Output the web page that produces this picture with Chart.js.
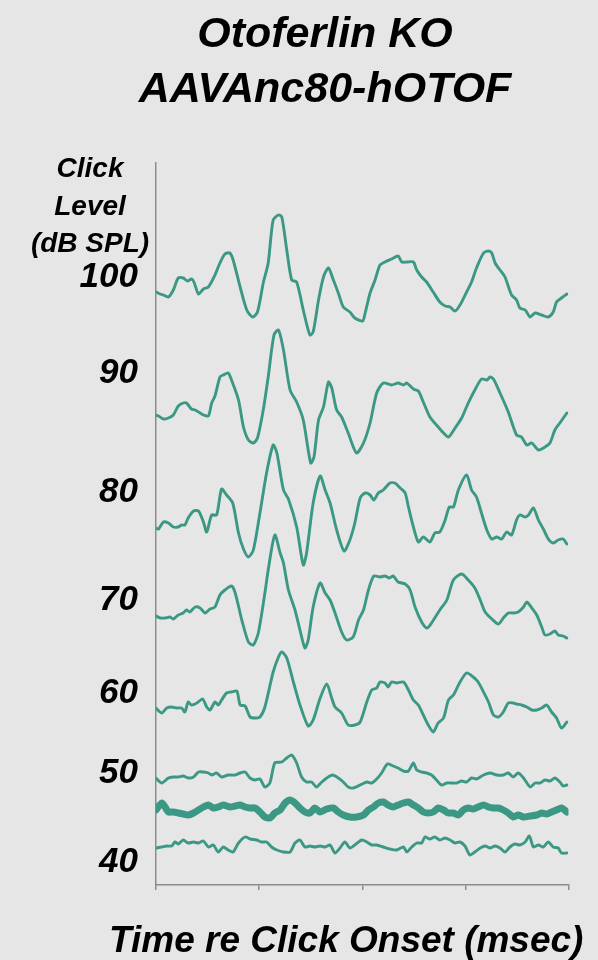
<!DOCTYPE html>
<html>
<head>
<meta charset="utf-8">
<script src="https://cdn.jsdelivr.net/npm/chart.js@4.4.1/dist/chart.umd.min.js"></script>
<style>
  html, body { margin: 0; padding: 0; background: #e7e6e7; }
  #wrap { width: 598px; height: 960px; }
  canvas { display: block; }
</style>
</head>
<body>
<div id="wrap"><canvas id="abr" width="598" height="960"></canvas></div>
<script>
// Click-evoked ABR waveforms, otoferlin KO mouse treated with AAVAnc80-hOTOF.
// Each waveform: [time re click onset (ms), amplitude (µV) about its own baseline].

const levels = [100, 90, 80, 70, 60, 50, 45, 40];           // dB SPL, top to bottom
const thresholdLevel = 45;                                     // drawn with a heavy line
const traceOffsets = [5.93, 4.70, 3.57, 2.69, 1.77, 1.07, 0.75, 0.37]; // µV stacking offsets

const labelledLevels = [100, 90, 80, 70, 60, 50, 40];
const levelTickValues = [6.08, 5.12, 3.93, 2.85, 1.92, 1.12, 0.23];
const timeTicks = [0, 2.5, 5, 7.5, 10];

const titleLines = ['Otoferlin KO', 'AAVAnc80-hOTOF'];
const levelHeading = ['Click', 'Level', '(dB SPL)'];
const timeAxisTitle = 'Time re Click Onset (msec)';

const wave100 = [[0.00,0.00],[0.10,-0.02],[0.18,-0.03],[0.30,-0.05],[0.42,0.02],[0.54,0.14],[0.66,0.14],[0.76,0.11],[0.86,0.13],[0.92,0.10],[1.03,-0.02],[1.15,0.03],[1.27,0.05],[1.43,0.17],[1.55,0.29],[1.67,0.38],[1.79,0.39],[1.87,0.32],[2.04,0.05],[2.20,-0.18],[2.34,-0.25],[2.46,-0.20],[2.60,0.09],[2.72,0.29],[2.84,0.72],[2.97,0.77],[3.05,0.75],[3.17,0.42],[3.29,0.12],[3.41,0.10],[3.57,-0.18],[3.73,-0.43],[3.81,-0.40],[3.94,-0.08],[4.06,0.15],[4.18,0.24],[4.30,0.12],[4.42,-0.01],[4.54,-0.15],[4.70,-0.20],[4.82,-0.26],[5.01,-0.29],[5.07,-0.21],[5.19,-0.01],[5.31,0.12],[5.43,0.27],[5.55,0.30],[5.71,0.33],[5.87,0.36],[5.96,0.30],[6.08,0.30],[6.24,0.30],[6.32,0.22],[6.44,0.15],[6.56,0.10],[6.72,0.00],[6.88,-0.10],[7.01,-0.14],[7.13,-0.15],[7.25,-0.19],[7.37,-0.13],[7.53,0.00],[7.65,0.10],[7.77,0.24],[7.94,0.39],[8.06,0.41],[8.14,0.39],[8.22,0.29],[8.34,0.22],[8.46,0.15],[8.62,-0.03],[8.74,-0.08],[8.82,-0.16],[8.95,-0.18],[9.07,-0.25],[9.19,-0.21],[9.35,-0.23],[9.51,-0.25],[9.63,-0.20],[9.71,-0.10],[9.83,-0.06],[9.96,-0.02]];

const wave90 = [[0.00,0.00],[0.06,-0.01],[0.18,-0.04],[0.30,-0.03],[0.42,0.00],[0.54,0.09],[0.66,0.12],[0.74,0.12],[0.86,0.06],[0.95,0.05],[1.07,0.02],[1.15,0.00],[1.27,-0.01],[1.35,0.12],[1.43,0.19],[1.55,0.38],[1.63,0.40],[1.75,0.42],[1.83,0.35],[2.00,0.15],[2.12,-0.12],[2.24,-0.25],[2.36,-0.28],[2.46,-0.23],[2.60,0.05],[2.72,0.38],[2.86,0.80],[2.97,0.85],[3.09,0.65],[3.25,0.25],[3.41,0.13],[3.57,-0.05],[3.75,-0.48],[3.83,-0.42],[3.94,-0.05],[4.06,0.08],[4.18,0.33],[4.26,0.27],[4.38,0.05],[4.50,-0.02],[4.66,-0.18],[4.86,-0.38],[5.03,-0.28],[5.19,-0.08],[5.35,0.22],[5.51,0.32],[5.71,0.30],[5.87,0.32],[6.00,0.30],[6.08,0.32],[6.24,0.26],[6.36,0.24],[6.48,0.13],[6.64,-0.02],[6.80,-0.10],[6.97,-0.18],[7.09,-0.22],[7.25,-0.13],[7.41,-0.03],[7.57,0.12],[7.73,0.25],[7.89,0.36],[8.02,0.35],[8.10,0.38],[8.18,0.36],[8.34,0.22],[8.54,0.03],[8.74,-0.20],[8.86,-0.22],[8.99,-0.30],[9.11,-0.28],[9.27,-0.35],[9.43,-0.32],[9.55,-0.28],[9.67,-0.15],[9.79,-0.08],[9.96,0.02]];

const wave80 = [[0.00,0.00],[0.06,-0.01],[0.18,0.06],[0.30,0.05],[0.42,0.01],[0.54,0.01],[0.62,0.03],[0.70,0.03],[0.78,0.10],[0.91,0.17],[1.03,0.17],[1.15,0.06],[1.23,-0.04],[1.35,0.13],[1.47,0.13],[1.59,0.39],[1.71,0.33],[1.86,0.25],[2.00,-0.05],[2.12,-0.21],[2.24,-0.29],[2.36,-0.22],[2.52,0.15],[2.68,0.55],[2.84,0.83],[2.93,0.75],[3.09,0.38],[3.21,0.29],[3.41,0.01],[3.57,-0.37],[3.65,-0.25],[3.81,0.25],[3.98,0.52],[4.10,0.38],[4.22,0.25],[4.38,-0.02],[4.56,-0.23],[4.70,-0.12],[4.82,0.05],[4.95,0.30],[5.07,0.35],[5.19,0.33],[5.28,0.28],[5.39,0.35],[5.51,0.38],[5.67,0.45],[5.79,0.45],[5.92,0.40],[6.04,0.35],[6.12,0.21],[6.24,0.01],[6.36,-0.14],[6.48,-0.09],[6.64,-0.14],[6.76,-0.05],[6.88,-0.04],[7.01,0.08],[7.11,0.21],[7.21,0.21],[7.33,0.38],[7.53,0.53],[7.65,0.38],[7.77,0.31],[7.89,0.15],[8.02,-0.02],[8.14,-0.11],[8.26,-0.09],[8.38,-0.11],[8.50,-0.04],[8.62,-0.07],[8.74,0.08],[8.82,0.13],[8.95,0.11],[9.03,0.13],[9.15,0.20],[9.27,0.08],[9.39,-0.01],[9.51,-0.11],[9.63,-0.15],[9.75,-0.12],[9.87,-0.11],[9.96,-0.16]];

const wave70 = [[0.00,0.00],[0.10,-0.02],[0.22,-0.02],[0.34,-0.01],[0.42,-0.03],[0.54,0.01],[0.66,0.03],[0.74,0.06],[0.82,0.04],[0.95,0.09],[1.07,0.08],[1.19,0.03],[1.31,0.07],[1.43,0.09],[1.55,0.21],[1.67,0.26],[1.83,0.30],[1.92,0.23],[2.08,-0.04],[2.24,-0.26],[2.36,-0.29],[2.48,-0.17],[2.64,0.23],[2.72,0.46],[2.88,0.81],[3.01,0.63],[3.09,0.53],[3.21,0.26],[3.37,0.06],[3.49,-0.14],[3.61,-0.32],[3.69,-0.24],[3.81,0.09],[3.98,0.33],[4.10,0.23],[4.22,0.16],[4.34,0.03],[4.50,-0.16],[4.62,-0.24],[4.78,-0.21],[4.91,-0.04],[5.03,0.06],[5.15,0.26],[5.28,0.40],[5.43,0.39],[5.55,0.40],[5.66,0.38],[5.75,0.40],[5.87,0.34],[6.04,0.32],[6.16,0.26],[6.28,0.09],[6.44,-0.06],[6.57,-0.12],[6.68,-0.07],[6.88,0.06],[7.05,0.16],[7.21,0.36],[7.41,0.42],[7.57,0.36],[7.73,0.28],[7.86,0.16],[7.98,0.04],[8.14,-0.03],[8.30,-0.08],[8.42,-0.02],[8.54,0.03],[8.66,0.03],[8.78,0.04],[8.91,0.09],[8.99,0.14],[9.11,0.08],[9.23,0.01],[9.35,-0.11],[9.43,-0.19],[9.55,-0.18],[9.67,-0.15],[9.75,-0.19],[9.87,-0.20],[9.96,-0.22]];

const wave60 = [[0.00,0.00],[0.14,-0.05],[0.26,0.00],[0.38,0.01],[0.50,0.00],[0.62,0.00],[0.70,-0.04],[0.78,0.06],[0.86,0.03],[0.99,0.05],[1.13,0.09],[1.23,0.01],[1.31,-0.02],[1.43,0.06],[1.51,0.03],[1.59,0.08],[1.71,0.15],[1.83,0.16],[1.96,0.17],[2.04,0.03],[2.16,0.02],[2.28,-0.09],[2.40,-0.10],[2.52,-0.09],[2.64,0.01],[2.84,0.36],[2.97,0.51],[3.05,0.56],[3.17,0.50],[3.33,0.26],[3.49,0.03],[3.69,-0.18],[3.81,-0.12],[3.98,0.10],[4.14,0.24],[4.26,0.10],[4.34,0.01],[4.50,-0.05],[4.66,-0.17],[4.82,-0.17],[4.95,-0.14],[5.11,0.06],[5.23,0.18],[5.35,0.20],[5.43,0.26],[5.55,0.25],[5.63,0.21],[5.71,0.26],[5.83,0.25],[6.00,0.26],[6.12,0.18],[6.24,0.08],[6.36,0.03],[6.48,-0.07],[6.60,-0.17],[6.72,-0.24],[6.84,-0.15],[6.97,-0.10],[7.09,0.08],[7.21,0.13],[7.37,0.26],[7.53,0.35],[7.69,0.31],[7.81,0.26],[7.94,0.16],[8.06,0.06],[8.18,-0.07],[8.30,-0.09],[8.42,-0.04],[8.54,0.05],[8.66,0.05],[8.74,0.04],[8.86,0.03],[8.99,0.01],[9.11,-0.02],[9.23,-0.02],[9.35,0.00],[9.47,0.03],[9.59,-0.04],[9.71,-0.10],[9.83,-0.20],[9.96,-0.14]];

const wave50 = [[0.00,0.00],[0.14,-0.05],[0.30,0.00],[0.42,0.01],[0.54,0.01],[0.66,0.02],[0.78,0.00],[0.91,0.01],[1.03,0.06],[1.15,0.06],[1.27,0.05],[1.35,0.03],[1.47,0.05],[1.59,0.01],[1.75,0.03],[1.92,0.03],[2.04,0.05],[2.16,0.06],[2.28,0.00],[2.40,-0.02],[2.52,-0.01],[2.64,-0.09],[2.76,-0.05],[2.88,0.15],[3.05,0.16],[3.17,0.20],[3.29,0.23],[3.41,0.15],[3.53,0.01],[3.65,-0.04],[3.77,-0.04],[3.89,-0.09],[4.02,-0.04],[4.14,0.00],[4.28,0.03],[4.42,0.00],[4.54,-0.04],[4.66,-0.09],[4.78,-0.10],[4.95,-0.07],[5.11,-0.04],[5.23,-0.05],[5.35,-0.01],[5.47,0.05],[5.61,0.14],[5.75,0.12],[5.87,0.10],[6.00,0.07],[6.12,0.07],[6.24,0.15],[6.32,0.08],[6.44,0.06],[6.56,0.05],[6.68,0.03],[6.80,-0.02],[6.92,-0.07],[7.05,-0.05],[7.17,-0.05],[7.29,-0.05],[7.41,-0.03],[7.53,-0.04],[7.65,0.00],[7.77,-0.01],[7.94,0.03],[8.10,0.05],[8.26,0.03],[8.42,0.03],[8.54,0.05],[8.66,0.01],[8.78,0.05],[8.91,0.00],[9.07,-0.09],[9.19,-0.05],[9.31,-0.05],[9.43,-0.02],[9.55,-0.03],[9.67,0.00],[9.79,-0.04],[9.87,-0.08],[9.96,-0.07]];

const wave45 = [[0.00,0.00],[0.14,0.07],[0.22,0.03],[0.30,-0.02],[0.42,-0.02],[0.54,-0.03],[0.66,-0.04],[0.78,-0.05],[0.91,-0.03],[1.03,0.00],[1.15,0.03],[1.27,0.05],[1.39,0.02],[1.51,0.03],[1.63,0.05],[1.79,0.03],[1.92,0.04],[2.04,0.05],[2.16,0.03],[2.28,0.02],[2.40,0.02],[2.52,-0.02],[2.64,-0.07],[2.76,-0.08],[2.88,-0.03],[3.01,0.00],[3.13,0.07],[3.25,0.10],[3.37,0.07],[3.49,0.02],[3.61,-0.02],[3.73,-0.03],[3.85,0.02],[3.98,-0.02],[4.14,0.01],[4.30,0.02],[4.42,-0.02],[4.54,-0.05],[4.70,-0.07],[4.86,-0.07],[5.03,-0.05],[5.15,0.00],[5.27,0.03],[5.39,0.07],[5.51,0.08],[5.63,0.05],[5.75,0.03],[5.87,0.05],[6.00,0.07],[6.12,0.08],[6.24,0.05],[6.36,0.02],[6.48,-0.02],[6.60,-0.03],[6.72,-0.02],[6.84,0.02],[6.97,0.00],[7.09,-0.03],[7.21,-0.03],[7.33,-0.05],[7.45,0.00],[7.57,0.02],[7.69,0.01],[7.81,0.03],[7.94,0.05],[8.06,0.03],[8.18,0.02],[8.30,0.02],[8.42,0.00],[8.54,-0.03],[8.66,-0.07],[8.78,-0.05],[8.91,-0.07],[9.07,-0.06],[9.23,-0.05],[9.35,-0.03],[9.47,-0.04],[9.59,-0.02],[9.71,0.00],[9.83,0.02],[9.96,-0.02]];

const wave40 = [[0.00,0.00],[0.14,0.01],[0.26,0.02],[0.38,0.02],[0.46,0.06],[0.54,0.04],[0.66,0.08],[0.78,0.05],[0.91,0.06],[1.03,0.05],[1.15,0.07],[1.27,0.01],[1.39,0.03],[1.51,-0.04],[1.63,0.01],[1.75,-0.02],[1.87,-0.04],[2.00,0.05],[2.16,0.11],[2.28,0.09],[2.44,0.08],[2.56,0.06],[2.68,0.06],[2.80,0.01],[2.93,-0.02],[3.09,-0.04],[3.25,-0.04],[3.37,0.05],[3.49,0.08],[3.61,0.01],[3.73,0.02],[3.85,0.01],[3.98,0.02],[4.10,0.01],[4.22,0.03],[4.34,-0.05],[4.46,0.00],[4.58,0.06],[4.70,0.00],[4.82,0.03],[4.99,0.08],[5.11,0.06],[5.23,0.03],[5.35,0.03],[5.51,0.01],[5.67,-0.01],[5.83,-0.02],[6.00,0.01],[6.08,-0.04],[6.20,0.01],[6.32,0.05],[6.44,0.05],[6.52,0.11],[6.64,0.09],[6.76,0.11],[6.88,0.08],[7.01,0.10],[7.13,0.08],[7.25,0.05],[7.37,0.06],[7.49,0.02],[7.61,-0.07],[7.73,-0.04],[7.86,0.00],[7.98,0.02],[8.10,0.00],[8.22,0.02],[8.34,0.00],[8.46,-0.04],[8.58,0.01],[8.70,0.04],[8.82,0.03],[8.95,0.06],[9.05,0.12],[9.15,0.01],[9.27,0.03],[9.39,0.01],[9.51,0.06],[9.63,0.01],[9.75,0.00],[9.83,-0.05],[9.96,-0.05]];

const waves = [wave100, wave90, wave80, wave70, wave60, wave50, wave45, wave40];

const TEAL = '#3a9884';
const AXIS_GREY = '#8c8c8c';
const FONT_FAMILY = '"Liberation Sans", Arial, Helvetica, sans-serif';

const datasets = levels.map((lvl, i) => ({
  label: lvl + ' dB SPL',
  data: waves[i].map(([t, v]) => ({ x: t, y: traceOffsets[i] + v })),
  borderColor: TEAL,
  borderWidth: lvl === thresholdLevel ? 7 : 2.9,
  pointRadius: 0,
  tension: 0.25,
  fill: false,
  borderJoinStyle: 'round',
  borderCapStyle: 'round'
}));

// Figure heading, the level heading beside the y axis, and the time-axis caption.
const figureText = {
  id: 'figureText',
  afterDraw(chart) {
    const { ctx, chartArea } = chart;
    ctx.save();
    ctx.fillStyle = '#000';
    ctx.textBaseline = 'alphabetic';
    ctx.textAlign = 'center';

    ctx.font = 'italic bold 43px ' + FONT_FAMILY;
    const titleX = chartArea.left + 169;
    titleLines.forEach((s, i) => ctx.fillText(s, titleX, chartArea.top - 116 + i * 55));

    ctx.font = 'italic bold 28px ' + FONT_FAMILY;
    const cx = chartArea.left - 66;
    levelHeading.forEach((s, i) => ctx.fillText(s, cx, chartArea.top + 14 + i * 37.5));

    ctx.font = 'italic bold 37px ' + FONT_FAMILY;
    ctx.fillText(timeAxisTitle, (chartArea.left + chartArea.right) / 2 - 16, chartArea.bottom + 67);
    ctx.restore();
  }
};

new Chart(document.getElementById('abr'), {
  type: 'line',
  data: { datasets },
  plugins: [figureText],
  options: {
    responsive: false,
    devicePixelRatio: 1,
    animation: false,
    layout: { padding: { left: 0, right: 29.5, top: 163, bottom: 0 } },
    plugins: {
      legend: { display: false },
      tooltip: { enabled: false },
      title: { display: false }
    },
    scales: {
      x: {
        type: 'linear',
        min: 0,
        max: 10,
        afterBuildTicks: (scale) => { scale.ticks = timeTicks.map(v => ({ value: v })); },
        afterFit: (scale) => { scale.height = 75; },
        ticks: { display: false },
        grid: { drawOnChartArea: false, drawTicks: true, tickLength: 5, color: AXIS_GREY, lineWidth: 1.5 },
        border: { display: true, color: AXIS_GREY, width: 1.5 }
      },
      y: {
        type: 'linear',
        min: 0,
        max: 7.22,
        afterBuildTicks: (scale) => { scale.ticks = levelTickValues.map(v => ({ value: v })); },
        afterFit: (scale) => { scale.width = 156; },
        ticks: {
          autoSkip: false,
          padding: 10,
          color: '#000',
          font: { family: FONT_FAMILY, size: 35, weight: 'bold', style: 'italic' },
          callback: (value, index) => String(labelledLevels[index])
        },
        grid: { display: false },
        border: { display: true, color: AXIS_GREY, width: 1.5 }
      }
    }
  }
});
</script>
</body>
</html>
